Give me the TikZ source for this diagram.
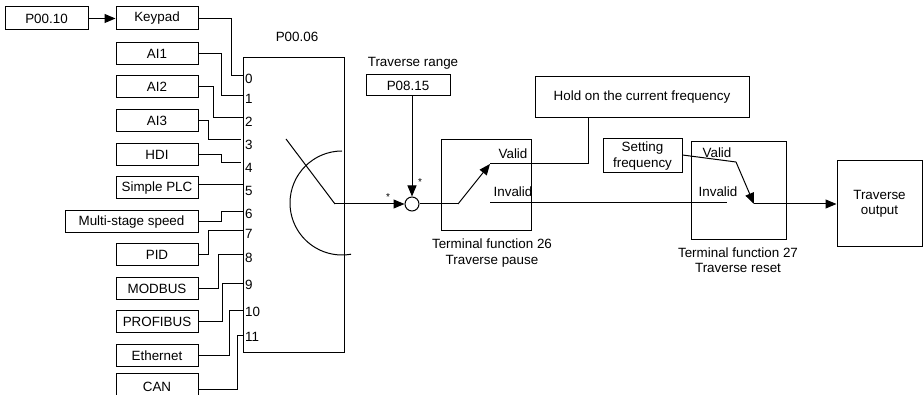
\documentclass[tikz,border=0pt]{standalone}
\usepackage{fontspec}
\setmainfont{Liberation Sans}
\usetikzlibrary{arrows.meta}
\begin{document}
\begin{tikzpicture}[x=1pt,y=-1pt,
  every node/.style={font=\fontsize{13.4}{15.5}\selectfont, inner sep=0pt},
  box/.style={draw, line width=1pt, align=center},
  wire/.style={line width=1pt},
  arr/.style={line width=1pt, -{Triangle[length=11pt,width=9pt]}},
  lbl/.style={align=center},
  num/.style={anchor=west},
  star/.style={font=\fontsize{10}{11}\selectfont}]
\useasboundingbox (0,0) rectangle (924,395);

% left boxes
\node[box, minimum width=83, minimum height=23] (p0010) at (46.5,18.5) {P00.10};
\node[box, minimum width=82, minimum height=23] (keypad) at (157,18.5) {Keypad};
\node[box, minimum width=82, minimum height=22] (ai1) at (157,54) {AI1};
\node[box, minimum width=82, minimum height=22] (ai2) at (157,87) {AI2};
\node[box, minimum width=82, minimum height=22] (ai3) at (157,120.5) {AI3};
\node[box, minimum width=82, minimum height=22] (hdi) at (157,154.5) {HDI};
\node[box, minimum width=82, minimum height=22] (plc) at (157,188) {Simple PLC};
\node[box, minimum width=133, minimum height=22] (multi) at (131.5,222) {Multi-stage speed};
\node[box, minimum width=82, minimum height=22] (pid) at (157,254.5) {PID};
\node[box, minimum width=82, minimum height=22] (modbus) at (157,288.5) {MODBUS};
\node[box, minimum width=82, minimum height=22] (profibus) at (157,322) {PROFIBUS};
\node[box, minimum width=82, minimum height=22] (ethernet) at (157,356) {Ethernet};
\node[box, minimum width=82, minimum height=26] (can) at (157,387) {CAN};

\draw[arr] (p0010) -- (keypad);

% selector box
\node[box, minimum width=101, minimum height=295] (sel) at (293.5,205.5) {};
\node (p0006) at (297,37) {P00.06};

\coordinate (in0) at (243,76);
\coordinate (in1) at (243,96);
\coordinate (in2) at (243,118);
\coordinate (in3) at (241,140);
\coordinate (in4) at (241,163);
\coordinate (in5) at (243,185);
\coordinate (in6) at (243,212);
\coordinate (in7) at (243,231);
\coordinate (in8) at (243,255);
\coordinate (in9) at (243,284);
\coordinate (in10) at (243,311);
\coordinate (in11) at (243,336);

\node[num] (n0) at (245,79) {0};
\node[num] (n1) at (245,99) {1};
\node[num] (n2) at (245,122) {2};
\node[num] (n3) at (245,145) {3};
\node[num] (n4) at (245,168) {4};
\node[num] (n5) at (245,191) {5};
\node[num] (n6) at (245,214) {6};
\node[num] (n7) at (245,234) {7};
\node[num] (n8) at (245,258) {8};
\node[num] (n9) at (245,285) {9};
\node[num] (n10) at (245,312) {10};
\node[num] (n11) at (245,337) {11};

\draw[wire] (keypad.east) -| ([xshift=-12pt]in0) -- (in0);
\draw[wire] (ai1.east) -| ([xshift=-22pt]in1) -- (in1);
\draw[wire] (ai2.east) -| ([xshift=-30pt]in2) -- (in2);
\draw[wire] (ai3.east) -| ([xshift=-33pt]in3) -- (in3);
\draw[wire] (hdi.east) -| ([xshift=-20pt]in4) -- (in4);
\draw[wire] (plc.east |- in5) -- (in5);
\draw[wire] (multi.east) -| ([xshift=-22pt]in6) -- (in6);
\draw[wire] (pid.east) -| ([xshift=-35pt]in7) -- (in7);
\draw[wire] (modbus.east) -| ([xshift=-25pt]in8) -- (in8);
\draw[wire] (profibus.east) -| ([xshift=-21pt]in9) -- (in9);
\draw[wire] (ethernet.east) -| ([xshift=-14pt]in10) -- (in10);
\draw[wire] ([yshift=-2pt]can.east) -| ([xshift=-6pt]in11) -- (in11);

% rotary switch symbol
\draw[wire] (342,151) arc[start angle=90, end angle=280, x radius=52pt, y radius=52pt];
\coordinate (pivot) at (335,204);
\coordinate (rtip) at (286,139);
\draw[wire] (rtip) -- (pivot);

% summing point
\node[draw, circle, line width=1pt, minimum size=14pt] (sum) at (412,204) {};
\draw[arr] (pivot) -- (sum.west);
\node (trange) at (413,63) {Traverse range};
\node[box, minimum width=84, minimum height=21] (p0815) at (408,85.5) {P08.15};
\draw[arr] (p0815.south -| sum.north) -- (sum.north);
\node[star] (st1) at (388,197) {*};
\node[star] (st2) at (420,182) {*};

% terminal function 26
\node[box, minimum width=90, minimum height=91] (tf26) at (486,185.5) {};
\node[lbl] (tf26l) at (492,253) {Terminal function 26\\Traverse pause};
\coordinate (s1a) at (458,204);
\coordinate (v1) at (490,164);
\coordinate (iv1) at (490,203);
\node (valid1) at (513,154) {Valid};
\node (invalid1) at (513,192) {Invalid};
\draw[wire] (sum.east) -- (s1a);
\draw[arr] (s1a) -- (v1);

\node[box, minimum width=214, minimum height=41] (hold) at (642,97.5) {Hold on the current frequency};
\draw[wire] (v1) -| (hold.south -| 588,0);

% terminal function 27
\node[box, minimum width=95, minimum height=98] (tf27) at (738.5,191) {};
\node[lbl] (tf27l) at (738,260) {Terminal function 27\\Traverse reset};
\node[box, minimum width=79, minimum height=34] (sf) at (642.5,156) {Setting\\frequency};
\node (valid2) at (717,153) {Valid};
\node (invalid2) at (718,192) {Invalid};
\coordinate (iv2) at (727,203);
\draw[wire] (iv1) -- (iv2);
\coordinate (k2) at (736,162);
\coordinate (s2) at (754,204);
\draw[wire] ([yshift=1pt]sf.east) -- (k2);
\draw[arr] (k2) -- (s2);

\node[box, minimum width=85, minimum height=86] (out) at (879.5,204) {Traverse\\output};
\draw[arr] (s2) -- (out.west);
\end{tikzpicture}
\end{document}
